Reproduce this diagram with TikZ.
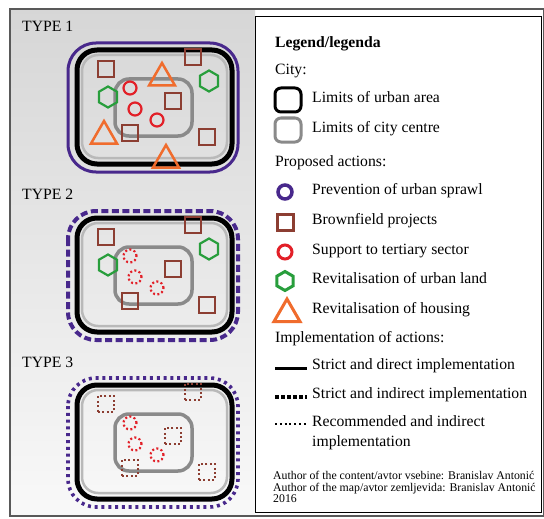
\documentclass[tikz,border=0pt]{standalone}
\usepackage{fontspec}
\setmainfont{Liberation Serif}
\usetikzlibrary{shapes.geometric}

\definecolor{sprawl}{RGB}{72,40,140}
\definecolor{brownfield}{RGB}{140,62,50}
\definecolor{tertiary}{RGB}{226,32,40}
\definecolor{landgreen}{RGB}{40,158,60}
\definecolor{housing}{RGB}{240,108,45}
\definecolor{centregray}{RGB}{138,138,138}

\newcommand\legendfont{\fontsize{15.7}{20}\selectfont}
\newcommand\authorfont{\fontsize{11.8}{11.2}\selectfont}

\tikzset{
  urban/.style={draw=black, line width=5pt, rounded corners=20pt},
  urbanshade/.style={draw=gray!55, line width=2.5pt, rounded corners=16pt},
  centre/.style={draw=centregray, line width=3.5pt, rounded corners=14pt},
  sprawlline/.style={draw=sprawl, line width=3pt, rounded corners=28pt},
  brownsq/.style={draw=brownfield, line width=2.5pt, minimum size=16pt, inner sep=0pt},
  redcirc/.style={circle, draw=tertiary, line width=2.2pt, minimum size=13pt, inner sep=0pt},
  greenhex/.style={regular polygon, regular polygon sides=6, shape border rotate=30,
    draw=landgreen, line width=2.2pt, minimum size=21pt, inner sep=0pt},
  orangetri/.style={regular polygon, regular polygon sides=3, draw=housing,
    line width=2.5pt, minimum size=30pt, inner sep=0pt},
  dotty/.style={dash pattern=on 2pt off 2.4pt},
  plaintext/.style={anchor=west, inner sep=0pt, font=\legendfont},
  label/.style={plaintext, text height=1.5ex, text depth=.25ex},
}

\begin{document}
\begin{tikzpicture}[x=1pt, y=-1pt]
    \useasboundingbox (0,0) rectangle (544,519);

    % Panels
    \shade[top color=gray!32, bottom color=gray!5] (10,9) rectangle (255,516);
    \draw[gray!70!black, line width=1.2pt] (10,9) rectangle (543.5,516);
    \draw[fill=white, line width=1pt] (255,17) rectangle (541,512);

    % Type 1
    \begin{scope}
        \node[label] (type1) at (22,29) {TYPE 1};
        \draw[sprawlline] (68,43) rectangle (238,172);
        \draw[urbanshade] (82,55) rectangle (227,158);
        \draw[urban] (77,50) rectangle (232,164);
        \draw[centre] (115,79) rectangle (192,136);
        \node[brownsq] (bfa1) at (106,69) {};
        \node[brownsq] (bfa2) at (193,57) {};
        \node[brownsq] (bfa3) at (173,101) {};
        \node[brownsq] (bfa4) at (130,133) {};
        \node[brownsq] (bfa5) at (207,137) {};
        \node[redcirc] (tsa1) at (130,88) {};
        \node[redcirc] (tsa2) at (135,109) {};
        \node[redcirc] (tsa3) at (157,120) {};
        \node[greenhex] (ula1) at (209,81) {};
        \node[greenhex] (ula2) at (108,97) {};
        \node[orangetri] (hoa1) at (162,78) {};
        \node[orangetri] (hoa2) at (104,136) {};
        \node[orangetri] (hoa3) at (166,160) {};
    \end{scope}

    % Type 2
    \begin{scope}[shift={(0,168)}]
        \node[label] (type2) at (22,29) {TYPE 2};
        \draw[sprawlline, line width=4pt, dash pattern=on 7pt off 3.5pt] (68,43) rectangle (238,172);
        \draw[urbanshade] (82,55) rectangle (227,158);
        \draw[urban] (77,50) rectangle (232,164);
        \draw[centre] (115,79) rectangle (192,136);
        \node[brownsq] (bfb1) at (106,69) {};
        \node[brownsq] (bfb2) at (193,57) {};
        \node[brownsq] (bfb3) at (173,101) {};
        \node[brownsq] (bfb4) at (130,133) {};
        \node[brownsq] (bfb5) at (207,137) {};
        \node[redcirc, dotty] (tsb1) at (130,88) {};
        \node[redcirc, dotty] (tsb2) at (135,109) {};
        \node[redcirc, dotty] (tsb3) at (157,120) {};
        \node[greenhex] (ulb1) at (209,81) {};
        \node[greenhex] (ulb2) at (108,97) {};
    \end{scope}

    % Type 3
    \begin{scope}[shift={(0,335)}]
        \node[label] (type3) at (22,30) {TYPE 3};
        \draw[sprawlline, line width=3.6pt, dash pattern=on 3pt off 3.8pt] (68,43) rectangle (238,172);
        \draw[urbanshade] (82,55) rectangle (227,158);
        \draw[urban] (77,50) rectangle (232,164);
        \draw[centre] (115,79) rectangle (192,136);
        \node[brownsq, dotty] (bfc1) at (106,69) {};
        \node[brownsq, dotty] (bfc2) at (193,57) {};
        \node[brownsq, dotty] (bfc3) at (173,101) {};
        \node[brownsq, dotty] (bfc4) at (130,133) {};
        \node[brownsq, dotty] (bfc5) at (207,137) {};
        \node[redcirc, dotty] (tsc1) at (130,88) {};
        \node[redcirc, dotty] (tsc2) at (135,109) {};
        \node[redcirc, dotty] (tsc3) at (157,120) {};
    \end{scope}

    % Legend
    \node[label] (title) at (275,45) {\textbf{Legend/legenda}};
    \node[label] (city) at (275,72) {City:};
    \draw[line width=3pt, rounded corners=6pt] (275,88) rectangle (301,112);
    \node[label] (urbtxt) at (312,100) {Limits of urban area};
    \draw[centregray, line width=3pt, rounded corners=6pt] (275,118) rectangle (301,142);
    \node[label] (cenrtxt) at (312,130) {Limits of city centre};

    \node[label] (proposed) at (275,164) {Proposed actions:};
    \node[circle, draw=sprawl, line width=3.5pt, minimum size=14pt, inner sep=0pt] (icsprawl) at (285,192) {};
    \node[label] (sprawltxt) at (312,192) {Prevention of urban sprawl};
    \node[brownsq, line width=3pt] (icbrown) at (285,222) {};
    \node[label] (browntxt) at (312,222) {Brownfield projects};
    \node[redcirc, line width=3pt, minimum size=14pt] (icred) at (285,252) {};
    \node[label] (redtxt) at (312,252) {Support to tertiary sector};
    \node[greenhex, line width=3pt, minimum size=19pt] (icgreen) at (285,281) {};
    \node[label] (greentxt) at (312,281) {Revitalisation of urban land};
    \node[orangetri, line width=3pt, minimum size=30pt] (icorange) at (287,314) {};
    \node[label] (orangetxt) at (312,311) {Revitalisation of housing};

    \node[label] (implem) at (275,340) {Implementation of actions:};
    \coordinate (sa) at (275,368);
    \coordinate (sb) at (307,368);
    \draw[line width=3pt] (sa) -- (sb);
    \node[label] (strictdir) at (312,367) {Strict and direct implementation};
    \coordinate (da) at (275,397);
    \coordinate (db) at (307,397);
    \draw[line width=3.5pt, dash pattern=on 4pt off 2pt] (da) -- (db);
    \node[label] (strictind) at (312,396) {Strict and indirect implementation};
    \coordinate (ra) at (275,424);
    \coordinate (rb) at (307,424);
    \draw[line width=2.5pt, dash pattern=on 2pt off 2.8pt] (ra) -- (rb);
    \node[plaintext, align=left] (recind) at (312,433) {Recommended and indirect\\implementation};

    \node[anchor=west, inner sep=0pt, align=left, font=\authorfont] (authors) at (273,487)
        {Author of the content/avtor vsebine: Branislav Antonić\\Author of the map/avtor zemljevida: Branislav Antonić\\2016};
\end{tikzpicture}
\end{document}
